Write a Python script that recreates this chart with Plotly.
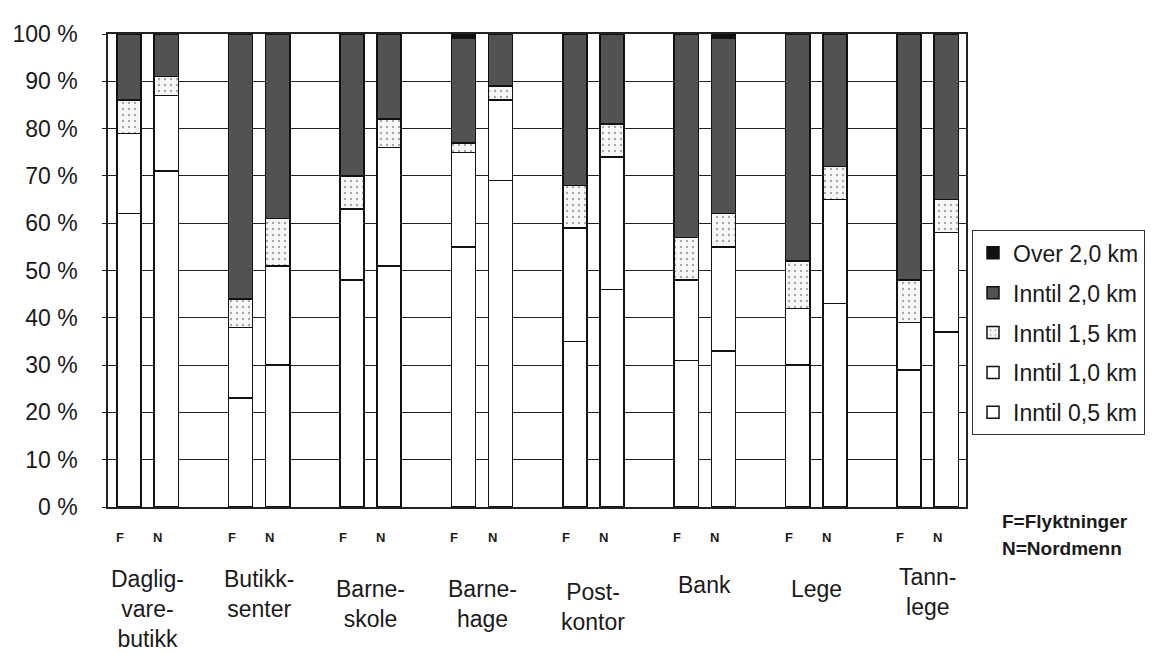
import plotly.graph_objects as go

# ---------------- data ----------------
categories = ["Daglig-<br>vare-<br>butikk", "Butikk-<br>senter", "Barne-<br>skole", "Barne-<br>hage",
              "Post-<br>kontor", "Bank", "Lege", "Tann-<br>lege"]
group_labels = ["F", "N"]
series_names = ["Inntil 0,5 km", "Inntil 1,0 km", "Inntil 1,5 km", "Inntil 2,0 km", "Over 2,0 km"]

# F = Flyktninger
f_05 = [62, 23, 48, 55, 35, 31, 30, 29]
f_10 = [17, 15, 15, 20, 24, 17, 12, 10]
f_15 = [7, 6, 7, 2, 9, 9, 10, 9]
f_20 = [14, 56, 30, 22, 32, 43, 48, 52]
f_over = [0, 0, 0, 1, 0, 0, 0, 0]

# N = Nordmenn
n_05 = [71, 30, 51, 69, 46, 33, 43, 37]
n_10 = [16, 21, 25, 17, 28, 22, 22, 21]
n_15 = [4, 10, 6, 3, 7, 7, 7, 7]
n_20 = [9, 39, 18, 11, 19, 37, 28, 35]
n_over = [0, 0, 0, 0, 0, 1, 0, 0]

y_ticks = list(range(0, 101, 10))
y_tick_text = [f"{v} %" for v in y_ticks]
note_lines = ["F=Flyktninger", "N=Nordmenn"]

# ---------------- layout helpers ----------------
f_x = [3 * i for i in range(len(categories))]
n_x = [3 * i + 1 for i in range(len(categories))]
bar_w = 0.65
label_dy = [0, 0, 10, 10, 13, 6, 10, -2]

FONT = "Liberation Sans, Arial, sans-serif"
TXT = "#1a1a1a"

styles = [
    dict(color="white"),
    dict(color="white"),
    dict(color="#f7f7f7", pattern=dict(shape=".", fgcolor="#555", bgcolor="#f7f7f7", size=6, solidity=0.12)),
    dict(color="#525252"),
    dict(color="#111111"),
]
f_series = [f_05, f_10, f_15, f_20, f_over]
n_series = [n_05, n_10, n_15, n_20, n_over]

fig = go.Figure()
for idx, (name, st, fv, nv) in enumerate(zip(series_names, styles, f_series, n_series)):
    marker = dict(color=st["color"], line=dict(color="#111", width=1.5))
    if "pattern" in st:
        marker["pattern"] = st["pattern"]
    fig.add_trace(go.Bar(
        name=name, x=f_x + n_x, y=fv + nv, width=bar_w,
        marker=marker, legendgroup=name, legendrank=len(series_names) - idx,
    ))

annotations = []
for i, cat in enumerate(categories):
    for gx, g in zip((f_x[i], n_x[i]), group_labels):
        annotations.append(dict(
            x=gx - bar_w / 2, y=-0.045, xref="x", yref="paper", text=f"<b>{g}</b>",
            showarrow=False, xanchor="left", yanchor="top", xshift=-3,
            font=dict(family=FONT, size=13, color=TXT)))
    annotations.append(dict(
        x=(f_x[i] + n_x[i]) / 2, y=-0.12, xref="x", yref="paper", text=cat,
        showarrow=False, xanchor="center", yanchor="top", yshift=-label_dy[i],
        font=dict(family=FONT, size=23, color=TXT), align="center"))
for k, line in enumerate(note_lines):
    annotations.append(dict(
        x=1.04, y=0.0, xref="paper", yref="paper", text=f"<b>{line}</b>",
        showarrow=False, xanchor="left", yanchor="top", yshift=-2 - 27 * k,
        font=dict(family=FONT, size=19, color=TXT)))

fig.update_layout(
    width=1155, height=654,
    margin=dict(l=100, r=197, t=26, b=155, autoexpand=False),
    barmode="stack",
    plot_bgcolor="white", paper_bgcolor="white",
    font=dict(family=FONT, color=TXT),
    xaxis=dict(range=[-0.57, 22.53], showticklabels=False, ticks="", showgrid=False, automargin=False,
               zeroline=False, showline=True, linecolor="#222", linewidth=1.5, mirror=True),
    yaxis=dict(range=[0, 100], tickvals=y_ticks, ticktext=y_tick_text, ticks="outside", ticklen=4,
               tickcolor="#222", showgrid=True, gridcolor="#222", gridwidth=1, automargin=False,
               zeroline=False, showline=True, linecolor="#222", linewidth=1.5, mirror=True,
               tickfont=dict(family=FONT, size=23, color=TXT), ticklabelstandoff=20),
    legend=dict(x=1.007, y=0.585, xanchor="left", yanchor="top",
                traceorder="grouped", tracegroupgap=7,
                font=dict(family=FONT, size=23, color=TXT),
                bordercolor="#333", borderwidth=1, bgcolor="white",
                itemwidth=30),
    annotations=annotations,
    showlegend=True,
)

fig.write_html("out.html")
